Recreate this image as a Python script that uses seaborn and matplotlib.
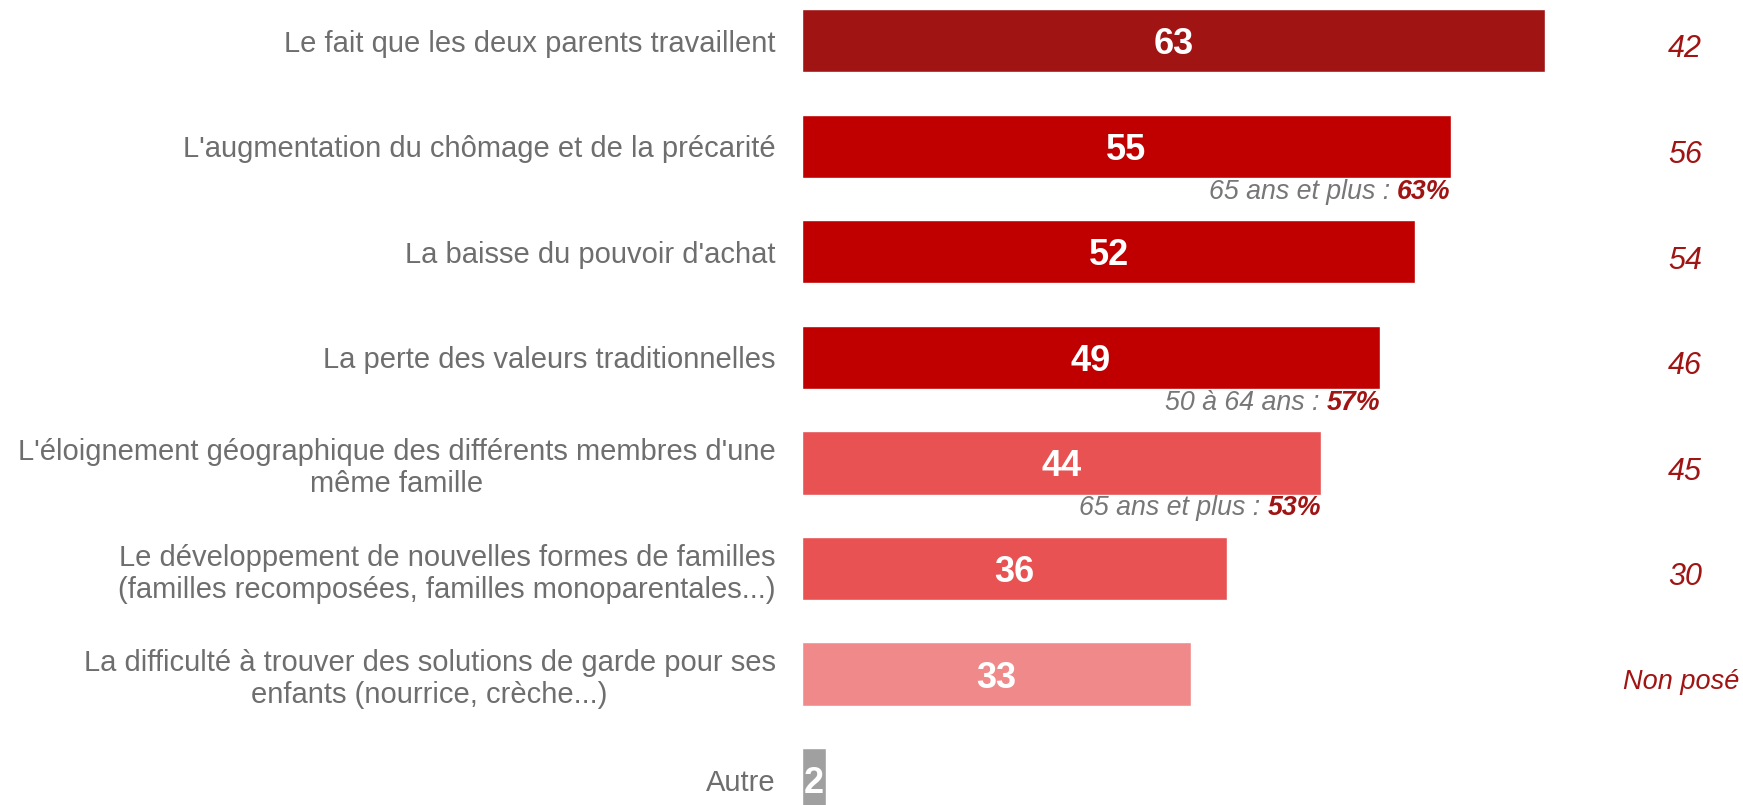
import pandas as pd
import matplotlib.pyplot as plt
import seaborn as sns

categories = [
    "Le fait que les deux parents travaillent",
    "L'augmentation du chômage et de la précarité",
    "La baisse du pouvoir d'achat",
    "La perte des valeurs traditionnelles",
    "L'éloignement géographique des différents membres d'une\nmême famille",
    "Le développement de nouvelles formes de familles\n(familles recomposées, familles monoparentales...)",
    "La difficulté à trouver des solutions de garde pour ses\nenfants (nourrice, crèche...)",
    "Autre",
]
values = [63, 55, 52, 49, 44, 36, 33, 2]
previous = ["42", "56", "54", "46", "45", "30", "Non posé", ""]
bar_colors = ["#A01414", "#C00000", "#C00000", "#C00000", "#E85252", "#E85252", "#F08A8A", "#A0A0A0"]
# sub-group highlights: (category index, group label, score)
highlights = [(1, "65 ans et plus : ", "63%"), (3, "50 à 64 ans : ", "57%"), (4, "65 ans et plus : ", "53%")]

df = pd.DataFrame({"cat": categories, "val": values})

sns.set_style("white")
plt.rcParams["font.family"] = ["Liberation Sans", "DejaVu Sans"]

fig = plt.figure(figsize=(17.43, 8.05), dpi=100)
ax = fig.add_axes([802 / 1743, 0, 1 - 802 / 1743, 1])
sns.barplot(data=df, y="cat", x="val", hue="cat", palette=dict(zip(categories, bar_colors)),
            orient="h", width=0.6, legend=False, ax=ax, saturation=1)

ax.set_xlim(0, 79.8)
ax.set_ylim(7.24, -0.385)
sns.despine(ax=ax, left=True, bottom=True, top=True, right=True)
ax.set_xticks([])
ax.set_xlabel("")
ax.set_ylabel("")
ax.tick_params(axis="y", length=0, pad=19)
for lbl in ax.get_yticklabels():
    lbl.set_fontsize(21)
    lbl.set_color("#6E6E6E")
    lbl.set_multialignment("center")
    lbl.set_linespacing(1.2)

for i, v in enumerate(values):
    ax.text(v / 2, i, str(v), ha="center", va="center_baseline", color="white",
            fontsize=26, fontweight="bold")
    if previous[i] == "Non posé":
        ax.text(79.5, i + 0.05, previous[i], ha="right", va="center_baseline", color="#A01414",
                fontsize=19.5, style="italic")
    elif previous[i]:
        ax.text(74.9, i + 0.05, previous[i], ha="center", va="center_baseline", color="#A01414",
                fontsize=22, style="italic")

for i, grp, score in highlights:
    t = ax.text(values[i], i + 0.43, score, ha="right", va="center", color="#A01414",
                fontsize=19.3, fontweight="bold", style="italic")
    ax.annotate(grp, xy=(0, 0.5), xycoords=t, ha="right", va="center", color="#777777",
                fontsize=19.3, style="italic")

fig.savefig("out.png", dpi=100)
